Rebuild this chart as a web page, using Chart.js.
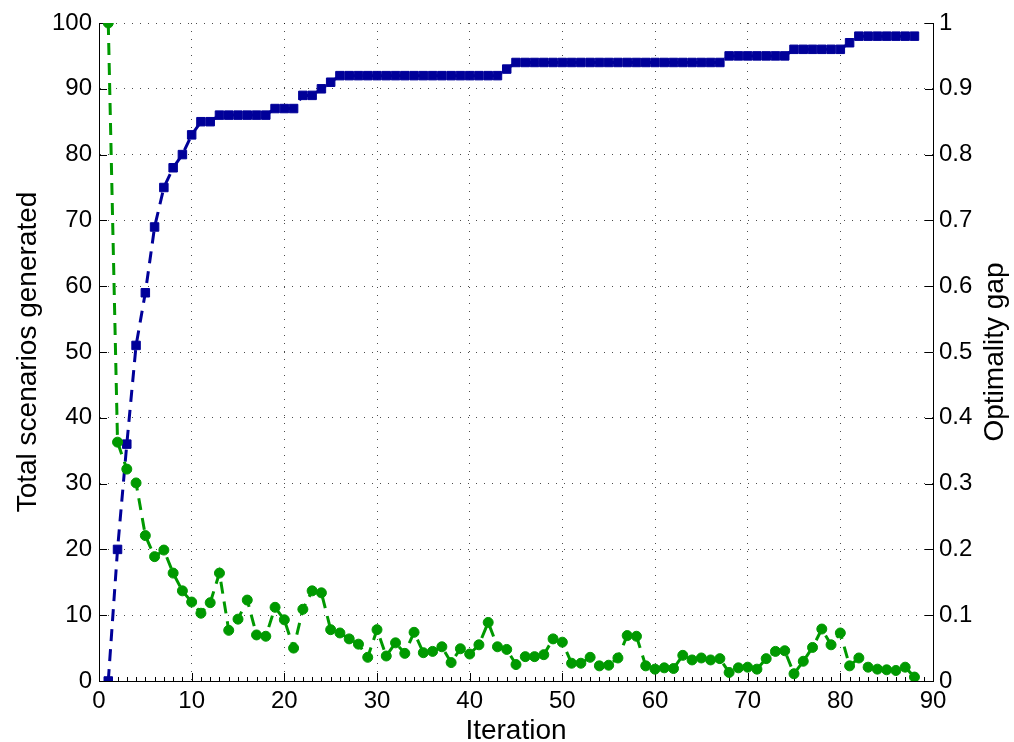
<!DOCTYPE html>
<html>
<head>
<meta charset="utf-8">
<title>Scenarios and optimality gap</title>
<script src="https://cdn.jsdelivr.net/npm/chart.js@4.4.1/dist/chart.umd.min.js"></script>
<style>
  html, body { margin: 0; padding: 0; background: #fff; }
  #wrap { width: 1014px; height: 742px; position: relative; }
</style>
</head>
<body>
<div id="wrap"><canvas id="chart"></canvas></div>
<script>
// Iteration number (x axis)
const iterations = [
   1,  2,  3,  4,  5,  6,  7,  8,  9, 10, 11, 12, 13, 14, 15, 16, 17, 18, 19, 20, 21, 22,
  23, 24, 25, 26, 27, 28, 29, 30, 31, 32, 33, 34, 35, 36, 37, 38, 39, 40, 41, 42, 43, 44,
  45, 46, 47, 48, 49, 50, 51, 52, 53, 54, 55, 56, 57, 58, 59, 60, 61, 62, 63, 64, 65, 66,
  67, 68, 69, 70, 71, 72, 73, 74, 75, 76, 77, 78, 79, 80, 81, 82, 83, 84, 85, 86, 87, 88
];

// Total scenarios generated (left axis)
const totalScenarios = [
   0, 20, 36, 51, 59, 69, 75, 78, 80, 83, 85, 85, 86, 86, 86, 86, 86, 86, 87, 87, 87, 89,
  89, 90, 91, 92, 92, 92, 92, 92, 92, 92, 92, 92, 92, 92, 92, 92, 92, 92, 92, 92, 92, 93,
  94, 94, 94, 94, 94, 94, 94, 94, 94, 94, 94, 94, 94, 94, 94, 94, 94, 94, 94, 94, 94, 94,
  94, 95, 95, 95, 95, 95, 95, 95, 96, 96, 96, 96, 96, 96, 97, 98, 98, 98, 98, 98, 98, 98
];

// Optimality gap (right axis)
const optimalityGap = [
  1.000, 0.363, 0.322, 0.301, 0.221, 0.189, 0.199, 0.164, 0.137, 0.120, 0.103,
  0.119, 0.164, 0.077, 0.094, 0.123, 0.070, 0.068, 0.112, 0.093, 0.050, 0.109,
  0.137, 0.134, 0.078, 0.073, 0.064, 0.056, 0.036, 0.078, 0.038, 0.058, 0.042,
  0.074, 0.043, 0.045, 0.052, 0.028, 0.049, 0.041, 0.055, 0.089, 0.052, 0.048,
  0.025, 0.037, 0.037, 0.040, 0.064, 0.059, 0.027, 0.027, 0.036, 0.023, 0.024,
  0.035, 0.069, 0.068, 0.023, 0.018, 0.020, 0.019, 0.039, 0.032, 0.035, 0.032,
  0.034, 0.013, 0.020, 0.021, 0.018, 0.034, 0.045, 0.046, 0.011, 0.030, 0.051,
  0.079, 0.055, 0.073, 0.023, 0.035, 0.021, 0.018, 0.017, 0.016, 0.021, 0.006
];

const FONT = "'Liberation Sans', Arial, Helvetica, sans-serif";
Chart.defaults.font.family = FONT;
Chart.defaults.color = '#000';

// ticks pointing into the plot + right axis title (reads bottom to top)
const insideTicks = {
  id: 'insideTicks',
  beforeDatasetsDraw(chart) {
    const { ctx, chartArea: a, scales } = chart;
    ctx.save();
    ctx.strokeStyle = '#000';
    ctx.lineWidth = 1;
    ctx.beginPath();

    const xs = scales.x;
    for (let v = xs.min; v <= xs.max; v++) {
      const px = Math.round(xs.getPixelForValue(v)) + 0.5;
      const len = v % 10 === 0 ? 8 : 4;
      ctx.moveTo(px, a.bottom);
      ctx.lineTo(px, a.bottom - len);
    }
    scales.y.ticks.forEach(t => {
      const py = Math.round(scales.y.getPixelForValue(t.value)) + 0.5;
      ctx.moveTo(a.left, py);
      ctx.lineTo(a.left + 8, py);
    });
    scales.y2.ticks.forEach(t => {
      const py = Math.round(scales.y2.getPixelForValue(t.value)) + 0.5;
      ctx.moveTo(a.right, py);
      ctx.lineTo(a.right - 8, py);
    });
    ctx.stroke();
    ctx.restore();
  },
  afterDraw(chart) {
    const { ctx, chartArea: a } = chart;
    ctx.save();
    ctx.translate(995, (a.top + a.bottom) / 2);
    ctx.rotate(-Math.PI / 2);
    ctx.font = '28px ' + FONT;
    ctx.fillStyle = '#000';
    ctx.textAlign = 'center';
    ctx.textBaseline = 'middle';
    ctx.fillText('Optimality gap', 0, 0);
    ctx.restore();
  }
};

// dotted matlab-style grid (in v4 border.dash sets the grid line dash)
const gridDots = {
  color: 'rgba(0,0,0,0.7)',
  lineWidth: 1,
  drawTicks: false
};
const axisBorder = { display: true, color: '#000', width: 1, dash: [1, 7] };

new Chart(document.getElementById('chart').getContext('2d'), {
  type: 'line',
  data: {
    datasets: [
      {
        label: 'Total scenarios generated',
        data: iterations.map((it, i) => ({ x: it, y: totalScenarios[i] })),
        yAxisID: 'y',
        order: 2,
        borderColor: '#000099',
        backgroundColor: '#000099',
        borderWidth: 3,
        borderDash: [12, 8],
        pointStyle: 'rect',
        pointRadius: 6,
        pointBorderWidth: 1,
        tension: 0
      },
      {
        label: 'Optimality gap',
        data: iterations.map((it, i) => ({ x: it, y: optimalityGap[i] })),
        yAxisID: 'y2',
        order: 1,
        borderColor: '#009900',
        backgroundColor: '#009900',
        borderWidth: 3,
        borderDash: [12, 8],
        pointStyle: 'circle',
        pointRadius: 5,
        pointBorderWidth: 1,
        tension: 0
      }
    ]
  },
  options: {
    responsive: true,
    maintainAspectRatio: false,
    animation: false,
    events: [],
    layout: { padding: { top: 23, right: 0, bottom: 0, left: 0 } },
    plugins: {
      legend: { display: false },
      tooltip: { enabled: false }
    },
    scales: {
      x: {
        type: 'linear',
        min: 0,
        max: 90,
        ticks: { stepSize: 10, autoSkip: false, maxRotation: 0, padding: 6, font: { size: 24 } },
        grid: gridDots,
        border: axisBorder,
        title: {
          display: true,
          text: 'Iteration',
          font: { size: 28 },
          padding: { top: 0, bottom: -6 }
        },
        afterFit: s => { s.height = 61; }
      },
      y: {
        position: 'left',
        min: 0,
        max: 100,
        ticks: { stepSize: 10, padding: 7, font: { size: 24 } },
        grid: gridDots,
        border: axisBorder,
        title: {
          display: true,
          text: 'Total scenarios generated',
          font: { size: 28 },
          padding: { top: 11, bottom: 0 }
        },
        afterFit: s => { s.width = 99; }
      },
      y2: {
        position: 'right',
        min: 0,
        max: 1,
        ticks: {
          stepSize: 0.1,
          padding: 6,
          font: { size: 24 },
          callback: v => String(Math.round(v * 10) / 10)
        },
        grid: { display: false, drawTicks: false },
        border: { display: true, color: '#000', width: 1 },
        afterFit: s => { s.width = 81; }
      }
    }
  },
  plugins: [insideTicks]
});
</script>
</body>
</html>
